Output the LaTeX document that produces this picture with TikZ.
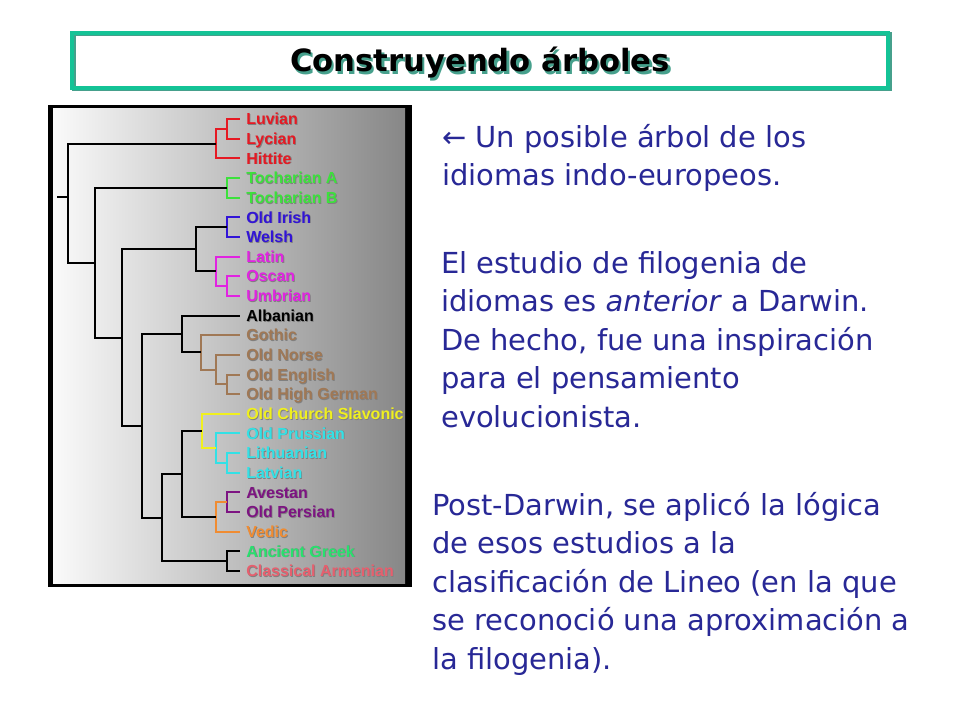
\documentclass[tikz,border=0pt]{standalone}
\usepackage{fontspec}
\setmainfont{DejaVu Sans}
\newfontfamily\treefont{Liberation Sans}
\usetikzlibrary{positioning}
\definecolor{anatred}{RGB}{230,25,35}
\definecolor{tochgreen}{RGB}{60,225,60}
\definecolor{celtblue}{RGB}{50,20,215}
\definecolor{italmag}{RGB}{225,35,225}
\definecolor{germbrown}{RGB}{160,120,85}
\definecolor{slavyell}{RGB}{240,240,30}
\definecolor{baltcyan}{RGB}{50,225,230}
\definecolor{iranpurp}{RGB}{125,20,130}
\definecolor{vedorange}{RGB}{240,140,50}
\definecolor{greekgreen}{RGB}{40,225,110}
\definecolor{armpink}{RGB}{230,95,110}
\definecolor{slideblue}{RGB}{40,40,150}
\definecolor{titleteal}{RGB}{20,195,150}
\definecolor{titleshade}{RGB}{70,160,140}
\newcommand{\lbl}[1]{\rlap{\kern0.6pt\raisebox{-0.6pt}{\color{black!50}#1}}#1}
\begin{document}
\begin{tikzpicture}[x=0.75pt,y=0.75pt]
                    \tikzstyle{every node}+=[inner sep=0pt]
                    \tikzstyle{leaf}=[anchor=west, inner xsep=4.5pt, font=\treefont\bfseries\fontsize{12}{14}\selectfont, text height=8.6pt, text depth=0pt]
                    \tikzstyle{branch}=[line width=1.5pt]
                    \tikzstyle{prose}=[anchor=north west, align=left, text=slideblue, font=\fontsize{21.7}{28.9}\selectfont]
                    \useasboundingbox (0,0) rectangle (960,-720);
                    \fill [white] (0,0) rectangle (960,-720);
                    % title box
                    \draw [line width=3pt, titleshade] (73.5,-34.5) rectangle (889.5,-89.5);
                    \draw [line width=3pt, titleteal] (72,-33) rectangle (888,-88);
                    \node [anchor=base, font=\bfseries\fontsize{23}{26}\selectfont] (title) at (480,-72)
                      {\rlap{\kern1.8pt\raisebox{-1.8pt}{\color{titleshade}Construyendo árboles}}Construyendo árboles};
                    % tree panel
                    \fill [black] (48,-105) rectangle (412,-587);
                    \shade [left color={rgb,255:red,250;green,250;blue,250}, right color={rgb,255:red,135;green,135;blue,135}] (53,-109) rectangle (405,-583);
                    % leaves
                    \node [leaf, text=anatred] (luv) at (240,-119) {\lbl{Luvian}};
                    \node [leaf, text=anatred] (lyc) at (240,-138.7) {\lbl{Lycian}};
                    \node [leaf, text=anatred] (hit) at (240,-158.3) {\lbl{Hittite}};
                    \node [leaf, text=tochgreen] (tocha) at (240,-178) {\lbl{Tocharian A}};
                    \node [leaf, text=tochgreen] (tochb) at (240,-197.6) {\lbl{Tocharian B}};
                    \node [leaf, text=celtblue] (oir) at (240,-217.3) {\lbl{Old Irish}};
                    \node [leaf, text=celtblue] (wel) at (240,-236.9) {\lbl{Welsh}};
                    \node [leaf, text=italmag] (lat) at (240,-256.6) {\lbl{Latin}};
                    \node [leaf, text=italmag] (osc) at (240,-276.2) {\lbl{Oscan}};
                    \node [leaf, text=italmag] (umb) at (240,-295.9) {\lbl{Umbrian}};
                    \node [leaf, text=black] (alb) at (240,-315.5) {\lbl{Albanian}};
                    \node [leaf, text=germbrown] (got) at (240,-335.2) {\lbl{Gothic}};
                    \node [leaf, text=germbrown] (ono) at (240,-354.8) {\lbl{Old Norse}};
                    \node [leaf, text=germbrown] (oen) at (240,-374.5) {\lbl{Old English}};
                    \node [leaf, text=germbrown] (ohg) at (240,-394.1) {\lbl{Old High German}};
                    \node [leaf, text=slavyell] (ocs) at (240,-413.8) {\lbl{Old Church Slavonic}};
                    \node [leaf, text=baltcyan] (opr) at (240,-433.4) {\lbl{Old Prussian}};
                    \node [leaf, text=baltcyan] (lit) at (240,-453.1) {\lbl{Lithuanian}};
                    \node [leaf, text=baltcyan] (lav) at (240,-472.7) {\lbl{Latvian}};
                    \node [leaf, text=iranpurp] (ave) at (240,-492.4) {\lbl{Avestan}};
                    \node [leaf, text=iranpurp] (ope) at (240,-512) {\lbl{Old Persian}};
                    \node [leaf, text=vedorange] (ved) at (240,-531.7) {\lbl{Vedic}};
                    \node [leaf, text=greekgreen] (agr) at (240,-551.3) {\lbl{Ancient Greek}};
                    \node [leaf, text=armpink] (arm) at (240,-571) {\lbl{Classical Armenian}};
                    % inner nodes
                    \coordinate (lvly) at (227,-128.9);
                    \coordinate (anat) at (216,-143.6);
                    \coordinate (toch) at (227,-187.8);
                    \coordinate (celt) at (227,-227.1);
                    \coordinate (osum) at (227,-286.1);
                    \coordinate (ital) at (216,-271.4);
                    \coordinate (celtital) at (196,-249.3);
                    \coordinate (engohg) at (227,-384.3);
                    \coordinate (nwgerm) at (216,-369.6);
                    \coordinate (germ) at (201,-352.4);
                    \coordinate (albgerm) at (182,-334);
                    \coordinate (litlav) at (227,-462.9);
                    \coordinate (balt) at (216,-448.2);
                    \coordinate (bslav) at (202,-431);
                    \coordinate (iran) at (227,-502.2);
                    \coordinate (indoir) at (216,-517);
                    \coordinate (satem) at (182,-474);
                    \coordinate (grarm) at (227,-561.2);
                    \coordinate (lower) at (162,-517.6);
                    \coordinate (middle) at (142,-425.8);
                    \coordinate (core) at (122,-337.6);
                    \coordinate (nontoch) at (95,-262.7);
                    \coordinate (root) at (68,-197);
                    \coordinate (stub) at (57,-197);
                    % branches
                    \draw [branch, anatred] (lvly) |- (luv.west) (lvly) |- (lyc.west);
                    \draw [branch, anatred] (anat) |- (lvly) (anat) |- (hit.west);
                    \draw [branch, tochgreen] (toch) |- (tocha.west) (toch) |- (tochb.west);
                    \draw [branch, celtblue] (celt) |- (oir.west) (celt) |- (wel.west);
                    \draw [branch, italmag] (osum) |- (osc.west) (osum) |- (umb.west);
                    \draw [branch, italmag] (ital) |- (lat.west) (ital) |- (osum);
                    \draw [branch] (celtital) |- (celt) (celtital) |- (ital);
                    \draw [branch, germbrown] (engohg) |- (oen.west) (engohg) |- (ohg.west);
                    \draw [branch, germbrown] (nwgerm) |- (ono.west) (nwgerm) |- (engohg);
                    \draw [branch, germbrown] (germ) |- (got.west) (germ) |- (nwgerm);
                    \draw [branch] (albgerm) |- (alb.west) (albgerm) |- (germ);
                    \draw [branch, baltcyan] (litlav) |- (lit.west) (litlav) |- (lav.west);
                    \draw [branch, baltcyan] (balt) |- (opr.west) (balt) |- (litlav);
                    \draw [branch, slavyell] (bslav) |- (ocs.west) (bslav) |- (balt);
                    \draw [branch, iranpurp] (iran) |- (ave.west) (iran) |- (ope.west);
                    \draw [branch, vedorange] (indoir) |- (iran) (indoir) |- (ved.west);
                    \draw [branch] (satem) |- (bslav) (satem) |- (indoir);
                    \draw [branch] (grarm) |- (agr.west) (grarm) |- (arm.west);
                    \draw [branch] (lower) |- (satem) (lower) |- (grarm);
                    \draw [branch] (middle) |- (albgerm) (middle) |- (lower);
                    \draw [branch] (core) |- (celtital) (core) |- (middle);
                    \draw [branch] (nontoch) |- (toch) (nontoch) |- (core);
                    \draw [branch] (root) |- (anat) (root) |- (nontoch);
                    \draw [branch] (stub) -- (root);
                    % text
                    \node [prose] (arrowtxt) at (442,-120.3) {\rule{0pt}{20pt}← Un posible árbol de los\\idiomas indo-europeos.};
                    \node [prose] (beforetxt) at (441,-246.3) {\rule{0pt}{20pt}El estudio de filogenia de\\idiomas es \textit{anterior} a Darwin.\\De hecho, fue una inspiración\\para el pensamiento\\evolucionista.};
                    \node [prose] (aftertxt) at (432,-488.3) {\rule{0pt}{20pt}Post-Darwin, se aplicó la lógica\\de esos estudios a la\\clasificación de Lineo (en la que\\se reconoció una aproximación a\\la filogenia).};
                \end{tikzpicture}
\end{document}
